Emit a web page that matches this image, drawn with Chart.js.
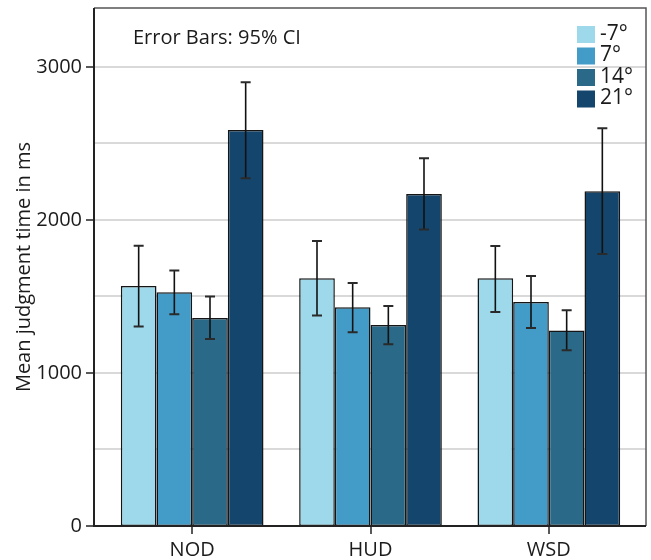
<!DOCTYPE html>
<html>
<head>
<meta charset="utf-8">
<script src="https://cdn.jsdelivr.net/npm/chart.js@4.4.1/dist/chart.umd.min.js"></script>
<style>
  body { margin: 0; background: #fff; }
</style>
</head>
<body>
<canvas id="chart" width="651" height="560"></canvas>
<script>
// data
var categories = ["NOD", "HUD", "WSD"];
var seriesLabels = ["-7°", "7°", "14°", "21°"];
var seriesColors = ["#9dd9ea", "#439cc8", "#2a6987", "#14456d"];

var meanMinus7 = [1569, 1619, 1619];
var mean7      = [1527, 1429, 1464];
var mean14     = [1359, 1314, 1277];
var mean21     = [2588, 2170, 2188];

// 95% CI bounds
var ciLowMinus7  = [1303, 1375, 1399];
var ciHighMinus7 = [1832, 1863, 1830];
var ciLow7       = [1384, 1266, 1294];
var ciHigh7      = [1669, 1588, 1634];
var ciLow14      = [1222, 1188, 1148];
var ciHigh14     = [1499, 1438, 1410];
var ciLow21      = [2272, 1937, 1778];
var ciHigh21     = [2900, 2403, 2599];

var yLabelTicks = [0, 1000, 2000, 3000];
var yGridTicks = [0, 500, 1000, 1500, 2000, 2500, 3000];
var yMax = 3385;

var means = [meanMinus7, mean7, mean14, mean21];
var ciLow = [ciLowMinus7, ciLow7, ciLow14, ciLow21];
var ciHigh = [ciHighMinus7, ciHigh7, ciHigh14, ciHigh21];

var FONT = '"Open Sans", "DejaVu Sans", sans-serif';
var TEXT = '#1b1b1b';

var datasets = seriesLabels.map(function (lab, i) {
  return {
    label: lab,
    data: means[i],
    backgroundColor: seriesColors[i],
    borderColor: '#151515',
    borderWidth: 1.5,
    borderSkipped: false,
    categoryPercentage: 0.8,
    barPercentage: 1.0
  };
});

// frame offset from the category area
var padL = 9, padR = 8;

var framePlugin = {
  id: 'frame',
  beforeDatasetsDraw: function (chart) {
    var ctx = chart.ctx, a = chart.chartArea, y = chart.scales.y;
    ctx.save();
    ctx.strokeStyle = '#d9d9d9';
    ctx.lineWidth = 2;
    y.ticks.forEach(function (t) {
      if (t.value <= 0) return;
      var py = Math.round(y.getPixelForValue(t.value));
      ctx.beginPath();
      ctx.moveTo(a.left - padL, py);
      ctx.lineTo(a.right + padR, py);
      ctx.stroke();
    });
    ctx.restore();
  },
  afterDatasetsDraw: function (chart) {
    var ctx = chart.ctx, y = chart.scales.y;
    ctx.save();
    chart.data.datasets.forEach(function (ds, i) {
      var meta = chart.getDatasetMeta(i);
      meta.data.forEach(function (bar, j) {
        var x = bar.x;
        var yl = y.getPixelForValue(ciLow[i][j]);
        var yh = y.getPixelForValue(ciHigh[i][j]);
        ctx.strokeStyle = '#111';
        ctx.lineWidth = 1.6;
        ctx.beginPath();
        ctx.moveTo(x, yh);
        ctx.lineTo(x, yl);
        ctx.stroke();
        ctx.strokeStyle = '#2a2a2a';
        ctx.lineWidth = 2;
        ctx.beginPath();
        ctx.moveTo(x - 5, yh); ctx.lineTo(x + 5, yh);
        ctx.moveTo(x - 5, yl); ctx.lineTo(x + 5, yl);
        ctx.stroke();
      });
    });
    ctx.restore();
  },
  afterDraw: function (chart) {
    var ctx = chart.ctx, a = chart.chartArea, y = chart.scales.y, x = chart.scales.x;
    var L = a.left - padL, R = a.right + padR, T = a.top, B = a.bottom;
    ctx.save();
    // frame
    ctx.strokeStyle = '#555';
    ctx.lineWidth = 1.5;
    ctx.beginPath();
    ctx.moveTo(L, T); ctx.lineTo(R, T); ctx.lineTo(R, B);
    ctx.stroke();
    ctx.strokeStyle = '#222';
    ctx.lineWidth = 2;
    ctx.beginPath();
    ctx.moveTo(L, T); ctx.lineTo(L, B); ctx.lineTo(R, B);
    ctx.stroke();
    // y tick marks
    ctx.lineWidth = 1.5;
    yLabelTicks.forEach(function (v) {
      var py = Math.round(y.getPixelForValue(v));
      ctx.beginPath(); ctx.moveTo(L - 8, py); ctx.lineTo(L, py); ctx.stroke();
    });
    // x tick marks
    categories.forEach(function (c, i) {
      var px = Math.round(x.getPixelForValue(i));
      ctx.beginPath(); ctx.moveTo(px, B); ctx.lineTo(px, B + 8); ctx.stroke();
    });
    // note
    ctx.fillStyle = TEXT;
    ctx.font = '20px ' + FONT;
    ctx.textBaseline = 'alphabetic';
    ctx.textAlign = 'left';
    ctx.fillText('Error Bars: 95% CI', 133, 44);
    // legend
    ctx.font = '21px ' + FONT;
    ctx.textBaseline = 'middle';
    chart.data.datasets.forEach(function (ds, i) {
      var by = 26 + i * 21.5;
      ctx.fillStyle = ds.backgroundColor;
      ctx.fillRect(577, by, 18, 17);
      ctx.fillStyle = TEXT;
      ctx.fillText(ds.label, 600, by + 8);
    });
    ctx.restore();
  }
};

new Chart(document.getElementById('chart'), {
  type: 'bar',
  data: { labels: categories, datasets: datasets },
  options: {
    responsive: false,
    animation: false,
    layout: { padding: { top: 8, right: 13, bottom: 0, left: 0 } },
    plugins: { legend: { display: false }, tooltip: { enabled: false } },
    scales: {
      x: {
        grid: { display: false, drawTicks: false },
        border: { display: false },
        ticks: { padding: 12, color: TEXT, font: { family: FONT, size: 20 } },
        afterFit: function (s) { s.height = 34; s.paddingLeft = 0; s.paddingRight = 0; }
      },
      y: {
        min: 0,
        max: yMax,
        grid: { display: false, drawTicks: false },
        border: { display: false },
        ticks: {
          autoSkip: false,
          padding: 21,
          color: TEXT,
          font: { family: FONT, size: 20 },
          callback: function (v) { return yLabelTicks.indexOf(v) >= 0 ? String(v) : ''; }
        },
        afterBuildTicks: function (s) {
          s.ticks = yGridTicks.map(function (v) { return { value: v }; });
        },
        title: {
          display: true,
          text: 'Mean judgment time in ms',
          color: TEXT,
          font: { family: FONT, size: 20 },
          padding: { top: 12, bottom: 0 }
        },
        afterFit: function (s) { s.width = 103; s.paddingTop = 0; s.paddingBottom = 0; }
      }
    }
  },
  plugins: [framePlugin]
});
</script>
</body>
</html>
